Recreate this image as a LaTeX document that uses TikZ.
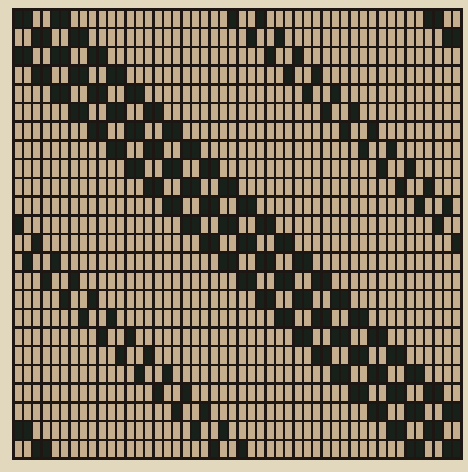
\documentclass[tikz,border=0pt]{standalone}
\definecolor{paper}{RGB}{226,216,190}
\definecolor{tan}{RGB}{197,174,142}
\definecolor{ink}{RGB}{30,22,18}
\definecolor{woven}{RGB}{24,32,26}
\begin{document}
\begin{tikzpicture}[
  x=0.9333cm, y=1.8708cm,
  cellbox/.style={fill=woven},
  gridline/.style={draw=ink, line width=0.25cm}
]
  \fill[paper] (-1.4464,-0.7216) rectangle (48.6964,24.508);
  \useasboundingbox (-1.4464,-0.7216) rectangle (48.6964,24.508);
  \fill[tan] (0,0) rectangle (48,24);

  \foreach \r in {1,...,24} {
    \foreach \d in {-2,0,2} {
      \pgfmathtruncatemacro{\s}{mod(\r+\d+23,24)+1}
      \fill[cellbox] (2*\s-2, 24-\r) rectangle ++(2,1);
    }
    \foreach \d in {22,25} {
      \pgfmathtruncatemacro{\c}{mod(2*\r+\d-1,48)+1}
      \fill[cellbox] (\c-1, 24-\r) rectangle ++(1,1);
    }
  }

  \foreach \i in {0,...,48} \draw[gridline] (\i,0) -- (\i,24);
  \foreach \j in {0,...,24} \draw[gridline] (0,\j) -- (48,\j);
  \draw[gridline] (0,0) rectangle (48,24);
\end{tikzpicture}
\end{document}
